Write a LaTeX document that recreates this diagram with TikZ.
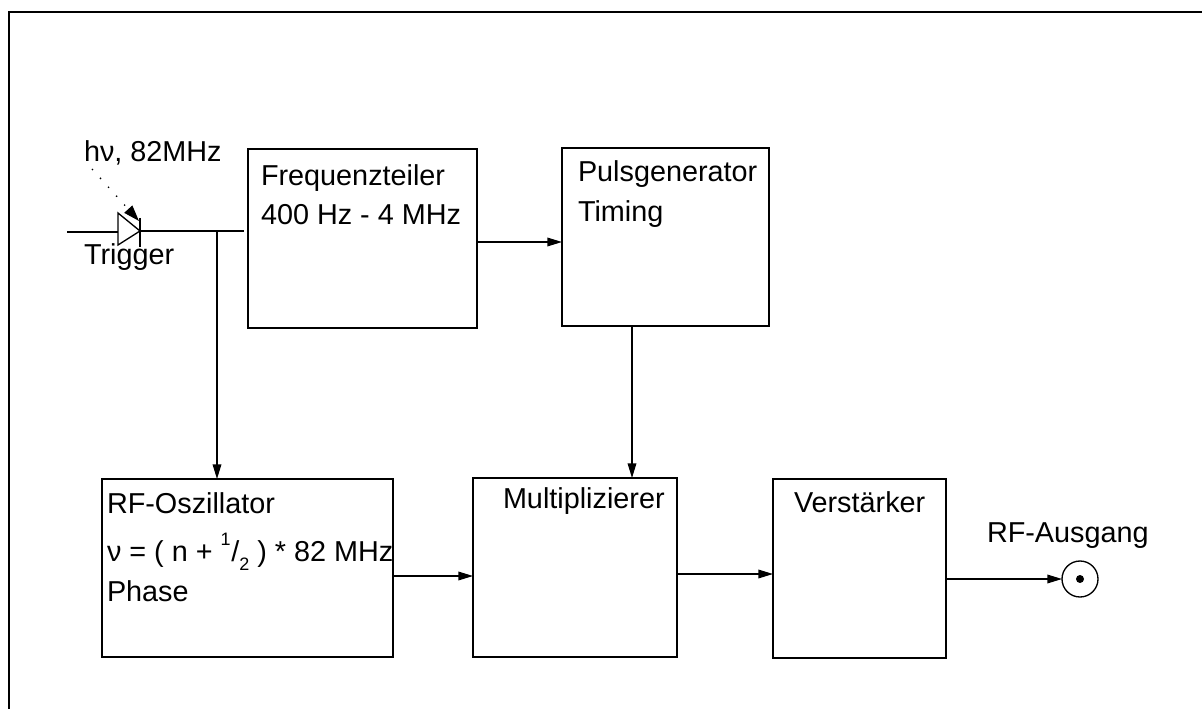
\documentclass[tikz,border=0pt]{standalone}
\usepackage{fontspec}
\setmainfont{Liberation Sans}
\usetikzlibrary{arrows.meta,calc}
\newcommand{\halbe}{\raisebox{1.05ex}{\fontsize{13.5pt}{13.5pt}\selectfont 1}\kern0.5pt/\raisebox{-0.65ex}{\fontsize{13.5pt}{13.5pt}\selectfont 2}}

\begin{document}
\begin{tikzpicture}[x=0.75pt,y=-0.75pt,line width=1pt,font=\fontsize{21.6pt}{24pt}\selectfont,
    blockbox/.style 2 args={draw,inner sep=0pt,outer sep=0pt,minimum width=#1*0.75pt,minimum height=#2*0.75pt},
    lbl/.style={anchor=base west,inner sep=0pt,outer sep=0pt},
    conn/.style={-{Stealth[inset=0pt,length=11pt,width=6.5pt]}}]
    \useasboundingbox (0,0) rectangle (1202,709);
    \draw[line width=1.5pt] (1202,12) -- (9,12) -- (9,709);
    \node[blockbox={229}{179}] (freq) at (362.5,238.5) {};
    \node[blockbox={207}{178}] (pulse) at (665.5,237) {};
    \node[blockbox={291}{178}] (rfosz) at (247.5,568) {};
    \node[blockbox={204}{179}] (mult) at (575,567.5) {};
    \node[blockbox={173}{179}] (verst) at (859.5,568.5) {};
    \node[circle,draw,inner sep=0pt,outer sep=0pt,minimum size=27pt] (rfout) at (1080,579) {};
    \node[circle,fill=black,inner sep=0pt,minimum size=6pt] (rfdot) at (1080,579) {};
    \node[lbl] (freqa) at (261,186) {Frequenzteiler};
    \node[lbl] (freqb) at (261,225) {400 Hz - 4 MHz};
    \node[lbl] (pulsea) at (578,182) {Pulsgenerator};
    \node[lbl] (pulseb) at (578,222) {Timing};
    \node[lbl] (rfosza) at (107,513) {RF-Oszillator};
    \node[lbl] (rfoszb) at (107,561) {ν = ( n + \halbe\ ) * 82 MHz};
    \node[lbl] (rfoszc) at (107,601) {Phase};
    \node[lbl] (multa) at (503,508) {Multiplizierer};
    \node[lbl] (versta) at (794,512) {Verstärker};
    \node[lbl] (ausgang) at (987,542) {RF-Ausgang};
    \node[lbl] (licht) at (84,162) {hν, 82MHz};
    \node[lbl] (trigger) at (84,265) {Trigger};
    % diode
    \coordinate (trigin) at (67,232);
    \coordinate (diodein) at (118,232);
    \coordinate (diodeout) at (140,231);
    \coordinate (trigend) at (244,231);
    \coordinate (branch) at (217,231);
    \coordinate (lichta) at (92,169);
    \coordinate (lichtb) at (139,221);
    \draw (118,213) -- (118,245) -- (diodeout) -- cycle;
    \draw (140,218) -- (140,247);
    \draw (trigin) -- (diodein);
    \draw (diodeout) -- (trigend);
    \draw[-{Stealth[inset=0pt,length=12pt,width=8pt]},dash pattern=on 1pt off 8pt] (lichta) -- (lichtb);
    % ports
    \coordinate (pulsein) at (562,242);
    \coordinate (multin) at (473,576);
    \coordinate (verstin) at (773,574);
    \coordinate (multtop) at (632,478);
    \draw[conn] (branch) -- (branch |- rfosz.north);
    \draw[conn] (freq.east |- pulsein) -- (pulsein);
    \draw[conn] (multtop |- pulse.south) -- (multtop);
    \draw[conn] (rfosz.east |- multin) -- (multin);
    \draw[conn] (mult.east |- verstin) -- (verstin);
    \draw[conn] (verst.east |- rfout) -- (rfout.west);
\end{tikzpicture}
\end{document}
